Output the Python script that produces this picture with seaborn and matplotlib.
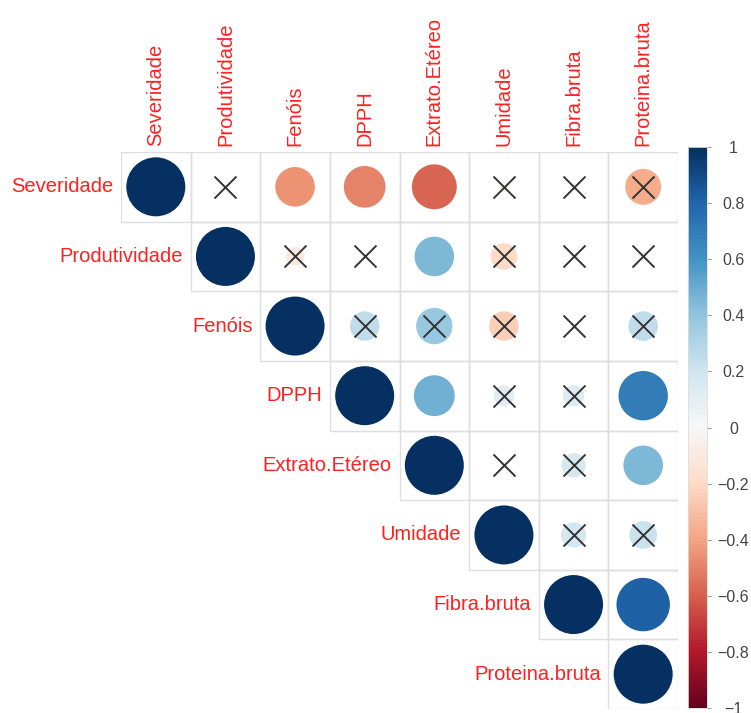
import numpy as np
import pandas as pd
import matplotlib
matplotlib.use("Agg")
import matplotlib.pyplot as plt
import seaborn as sns
from matplotlib.patches import Rectangle

# variables, in plot order
VARIABLES = ["Severidade", "Produtividade", "Fenóis", "DPPH", "Extrato.Etéreo",
             "Umidade", "Fibra.bruta", "Proteina.bruta"]

# upper triangle of the correlation matrix, one list per row (starts at the diagonal)
ROW_SEVERIDADE = [1.00, 0.01, -0.45, -0.50, -0.58, -0.03, 0.02, -0.37]
ROW_PRODUTIVIDADE = [1.00, -0.10, 0.01, 0.45, -0.20, -0.02, 0.03]
ROW_FENOIS = [1.00, 0.25, 0.38, -0.25, 0.02, 0.25]
ROW_DPPH = [1.00, 0.48, 0.12, 0.13, 0.70]
ROW_EXTRATO = [1.00, -0.02, 0.17, 0.45]
ROW_UMIDADE = [1.00, 0.18, 0.22]
ROW_FIBRA = [1.00, 0.82]
ROW_PROTEINA = [1.00]

# pairs (row, col) that are not significant -> crossed out
NONSIG = [("Severidade", "Produtividade"), ("Severidade", "Umidade"),
          ("Severidade", "Fibra.bruta"), ("Severidade", "Proteina.bruta"),
          ("Produtividade", "Fenóis"), ("Produtividade", "DPPH"),
          ("Produtividade", "Umidade"), ("Produtividade", "Fibra.bruta"),
          ("Produtividade", "Proteina.bruta"),
          ("Fenóis", "DPPH"), ("Fenóis", "Extrato.Etéreo"), ("Fenóis", "Umidade"),
          ("Fenóis", "Fibra.bruta"), ("Fenóis", "Proteina.bruta"),
          ("DPPH", "Umidade"), ("DPPH", "Fibra.bruta"),
          ("Extrato.Etéreo", "Umidade"), ("Extrato.Etéreo", "Fibra.bruta"),
          ("Umidade", "Fibra.bruta"), ("Umidade", "Proteina.bruta")]

CBAR_TICKS = [-1, -0.8, -0.6, -0.4, -0.2, 0, 0.2, 0.4, 0.6, 0.8, 1]

rows = [ROW_SEVERIDADE, ROW_PRODUTIVIDADE, ROW_FENOIS, ROW_DPPH,
        ROW_EXTRATO, ROW_UMIDADE, ROW_FIBRA, ROW_PROTEINA]

# long form table for seaborn
records = []
for i, vals in enumerate(rows):
    for k, r in enumerate(vals):
        j = i + k
        records.append({"row": i, "col": j, "x": j + 0.5, "y": i + 0.5,
                        "r": r, "absr": abs(r)})
df = pd.DataFrame(records)

idx = {v: n for n, v in enumerate(VARIABLES)}
ns = pd.DataFrame([{"x": idx[b] + 0.5, "y": idx[a] + 0.5} for a, b in NONSIG])

n = len(VARIABLES)
fig = plt.figure(figsize=(7.51, 7.13), dpi=100)
ax = fig.add_axes([121 / 751, 4 / 713, 557 / 751, 557 / 713])

# cell borders of the upper triangle
for _, rec in df.iterrows():
    ax.add_patch(Rectangle((rec["col"], rec["row"]), 1, 1, fill=False,
                           edgecolor="#dedede", linewidth=1.0, zorder=1))

cmap = plt.get_cmap("RdBu")
d_max_pt = 59 * 72 / 100  # diameter of a |r|=1 circle in points
sns.scatterplot(data=df, x="x", y="y", hue="r", palette=cmap, hue_norm=(-1, 1),
                size="absr", sizes=(0, d_max_pt ** 2), size_norm=(0, 1),
                linewidth=0, legend=False, ax=ax, zorder=2)
sns.scatterplot(data=ns, x="x", y="y", marker="x", s=(22 * 72 / 100) ** 2,
                color="#333333", linewidth=1.4, legend=False, ax=ax, zorder=3)

ax.set_xlim(0, n)
ax.set_ylim(n, 0)
ax.set_aspect("equal")
ax.axis("off")

label_kw = dict(color="#ff2020", fontsize=14.5, family=["Liberation Sans", "DejaVu Sans"])
for i, name in enumerate(VARIABLES):
    ax.text(i - 0.11, i + 0.5, name, ha="right", va="center", clip_on=False, **label_kw)
    ax.text(i + 0.5, -0.08, name, ha="center", va="bottom", rotation=90,
            clip_on=False, **label_kw)

# colour bar
cax = fig.add_axes([688 / 751, 5 / 713, 19 / 751, 561 / 713])
sm = plt.cm.ScalarMappable(cmap=cmap, norm=plt.Normalize(-1, 1))
cb = fig.colorbar(sm, cax=cax, ticks=CBAR_TICKS)
cb.outline.set_edgecolor("#dddddd")
cb.outline.set_linewidth(0.6)
cb.set_ticklabels([f"{t:g}".replace("-", "\u2212") for t in CBAR_TICKS])
cax.tick_params(labelsize=11.5, length=3, width=0.6, color="#888888",
                labelcolor="#444444", pad=16)
for t in cax.get_yticklabels():
    t.set_family(["Liberation Sans", "DejaVu Sans"])
    t.set_horizontalalignment("center")

fig.savefig("out.png", dpi=100)
